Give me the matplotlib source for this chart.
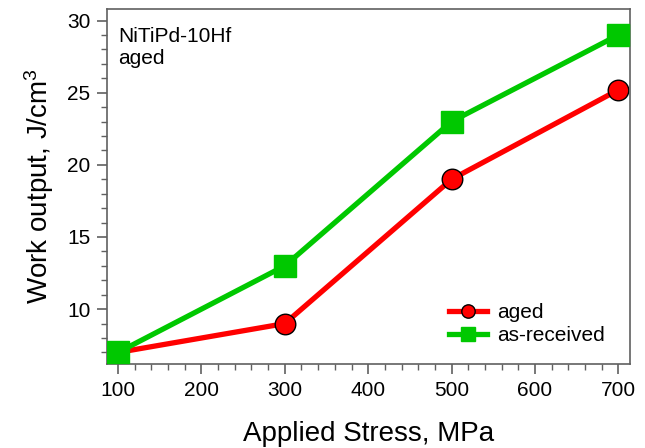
import matplotlib
matplotlib.use("Agg")
import matplotlib.pyplot as plt
from matplotlib.ticker import MultipleLocator

plt.rcParams['font.family'] = ['Liberation Sans', 'DejaVu Sans']
plt.rcParams['mathtext.fontset'] = 'custom'
plt.rcParams['mathtext.rm'] = 'Liberation Sans'
plt.rcParams['mathtext.it'] = 'Liberation Sans:italic'

stress = [100, 300, 500, 700]
aged = [7, 9, 19, 25.2]
as_received = [7, 13, 23, 29]

fig = plt.figure(figsize=(6.45, 4.48), dpi=100)
ax = fig.add_axes([0.166, 0.1875, 0.811, 0.7925])

ax.plot(stress, aged, color='#ff0000', lw=3.8, marker='o', ms=14.8,
        mec='black', mew=1.0, mfc='#ff0000', label='aged', zorder=2)
ax.plot(stress, as_received, color='#00c800', lw=3.8, marker='s', ms=16.5,
        mec='#00c800', mfc='#00c800', label='as-received', zorder=3)

ax.set_xlim(87, 714)
ax.set_ylim(6.2, 30.8)
ax.xaxis.set_major_locator(MultipleLocator(100))
ax.xaxis.set_minor_locator(MultipleLocator(20))
ax.yaxis.set_major_locator(MultipleLocator(5))
ax.yaxis.set_minor_locator(MultipleLocator(1))

grey = '#606060'
for s in ax.spines.values():
    s.set_color(grey)
    s.set_linewidth(1.2)
ax.tick_params(which='major', direction='out', length=7, width=1.2, color=grey,
               labelsize=15, labelcolor='black', pad=5)
ax.tick_params(which='minor', direction='out', length=4, width=1.0, color=grey)

ax.set_xlabel('Applied Stress, MPa', fontsize=20, labelpad=15)
ax.set_ylabel('Work output, J/cm$^3$', fontsize=20, labelpad=8)

ax.text(0.022, 0.95, 'NiTiPd-10Hf\naged', transform=ax.transAxes,
        fontsize=15, va='top', ha='left', linespacing=1.25)

leg = ax.legend(loc='lower right',
                bbox_to_anchor=(0.988, 0.0), frameon=False, fontsize=15,
                markerscale=0.65, handlelength=1.8, handletextpad=0.5,
                labelspacing=0.2)

fig.savefig('out.png', dpi=100)
